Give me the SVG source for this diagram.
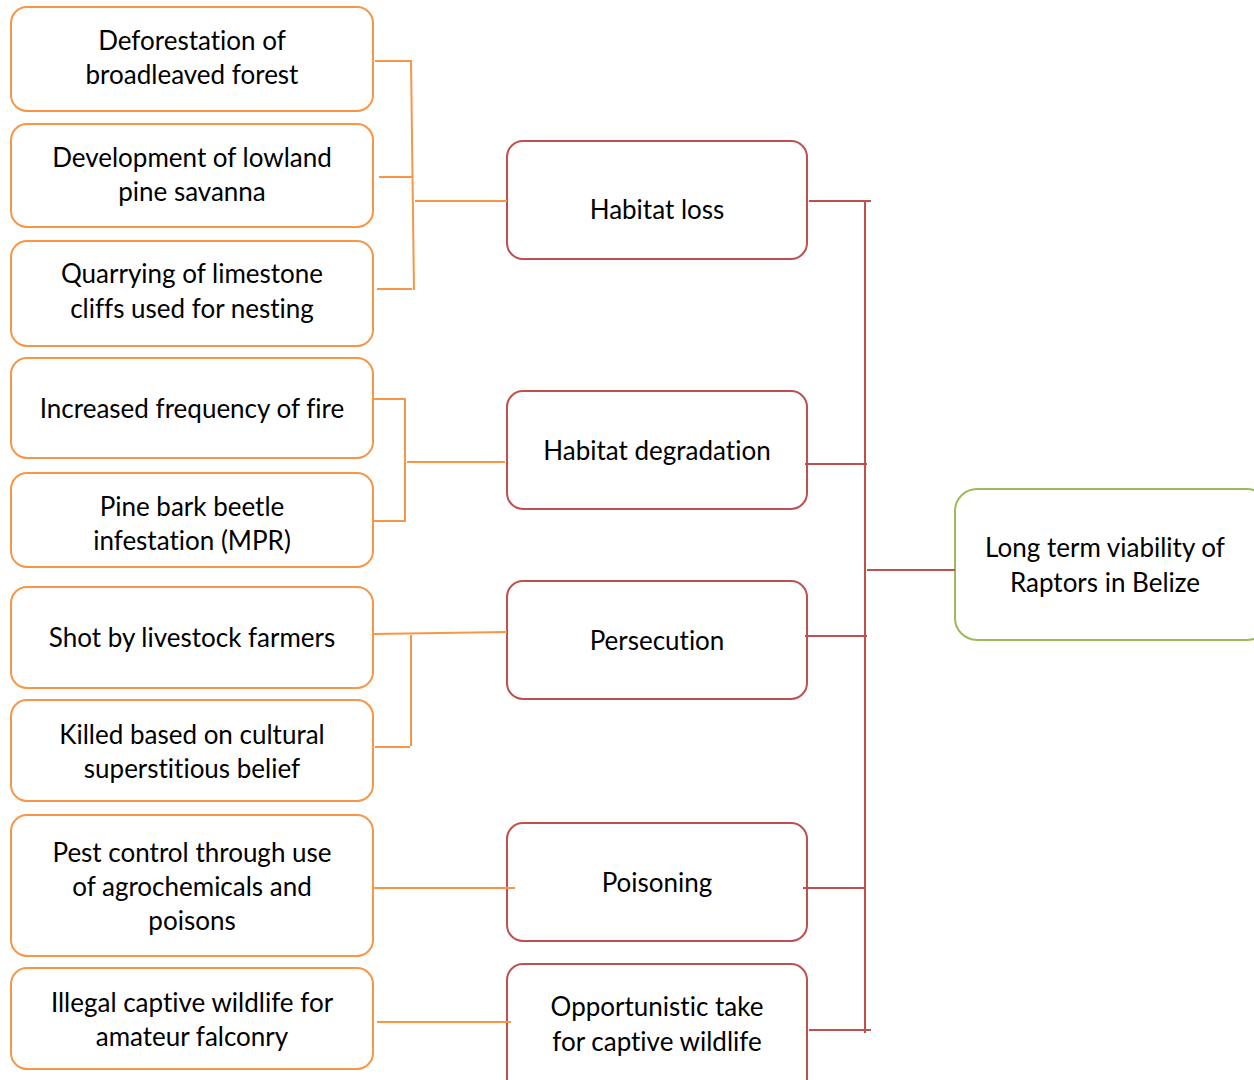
<svg xmlns="http://www.w3.org/2000/svg" width="1254" height="1080" viewBox="0 0 1254 1080">
<style>
.o{fill:#fff;stroke:#F79646;stroke-width:2}
.r{fill:#fff;stroke:#C0504D;stroke-width:2}
.g{fill:#fff;stroke:#9BBB59;stroke-width:2}
text{font-family:Lato,"Open Sans",sans-serif;font-size:26px;fill:#000;text-anchor:middle;font-variant-ligatures:none}
.co line{stroke:#F79646;stroke-width:2}
.cr line{stroke:#C0504D;stroke-width:2}
</style>
<rect width="1254" height="1080" fill="#fff"/>
<g id="n1"><rect class="o" x="11" y="7" width="362" height="104" rx="16"/><text x="192" y="50">Deforestation of</text><text x="192" y="84">broadleaved forest</text></g>
<g id="n2"><rect class="o" x="11" y="124" width="362" height="103" rx="16"/><text x="192" y="167">Development of lowland</text><text x="192" y="201">pine savanna</text></g>
<g id="n3"><rect class="o" x="11" y="241" width="362" height="105" rx="16"/><text x="192" y="283">Quarrying of limestone</text><text x="192" y="318">cliffs used for nesting</text></g>
<g id="n4"><rect class="o" x="11" y="358" width="362" height="100" rx="16"/><text x="192" y="418">Increased frequency of fire</text></g>
<g id="n5"><rect class="o" x="11" y="473" width="362" height="94" rx="16"/><text x="192" y="516">Pine bark beetle</text><text x="192" y="550">infestation (MPR)</text></g>
<g id="n6"><rect class="o" x="11" y="587" width="362" height="101" rx="16"/><text x="192" y="647">Shot by livestock farmers</text></g>
<g id="n7"><rect class="o" x="11" y="700" width="362" height="101" rx="16"/><text x="192" y="744">Killed based on cultural</text><text x="192" y="778">superstitious belief</text></g>
<g id="n8"><rect class="o" x="11" y="815" width="362" height="141" rx="16"/><text x="192" y="862">Pest control through use</text><text x="192" y="896">of agrochemicals and</text><text x="192" y="930">poisons</text></g>
<g id="n9"><rect class="o" x="11" y="968" width="362" height="101" rx="16"/><text x="192" y="1012">Illegal captive wildlife for</text><text x="192" y="1046">amateur falconry</text></g>
<g id="m1"><rect class="r" x="507" y="141" width="300" height="118" rx="16"/><text x="657" y="219">Habitat loss</text></g>
<g id="m2"><rect class="r" x="507" y="391" width="300" height="118" rx="16"/><text x="657" y="460">Habitat degradation</text></g>
<g id="m3"><rect class="r" x="507" y="581" width="300" height="118" rx="16"/><text x="657" y="650">Persecution</text></g>
<g id="m4"><rect class="r" x="507" y="823" width="300" height="118" rx="16"/><text x="657" y="892">Poisoning</text></g>
<g id="m5"><rect class="r" x="507" y="964" width="300" height="130" rx="16"/><text x="657" y="1016">Opportunistic take</text><text x="657" y="1051">for captive wildlife</text></g>
<g id="t"><rect class="g" x="955" y="489" width="314" height="151" rx="22"/><text x="1105" y="557">Long term viability of</text><text x="1105" y="592">Raptors in Belize</text></g>
<g id="connectors">
<g class="co">
<line x1="375" y1="61" x2="410" y2="61"/>
<line x1="411" y1="60" x2="414" y2="290"/>
<line x1="379" y1="177" x2="413" y2="177"/>
<line x1="377" y1="289" x2="412" y2="289"/>
<line x1="415" y1="201" x2="507" y2="201"/>
<line x1="373" y1="399" x2="406" y2="399"/>
<line x1="405" y1="399" x2="405" y2="522"/>
<line x1="373" y1="521" x2="406" y2="521"/>
<line x1="407" y1="462" x2="505" y2="462"/>
<line x1="373" y1="634" x2="507" y2="632"/>
<line x1="411" y1="635" x2="411" y2="746"/>
<line x1="375" y1="747" x2="410" y2="747"/>
<line x1="373" y1="888" x2="515" y2="888"/>
<line x1="377" y1="1022" x2="511" y2="1022"/>
</g>
<g class="cr">
<line x1="809" y1="201" x2="871" y2="201"/>
<line x1="865" y1="201" x2="865" y2="1033"/>
<line x1="805" y1="464" x2="867" y2="464"/>
<line x1="867" y1="570" x2="955" y2="570"/>
<line x1="805" y1="636" x2="867" y2="636"/>
<line x1="803" y1="888" x2="865" y2="888"/>
<line x1="809" y1="1030" x2="871" y2="1030"/>
</g>
</g>
</svg>
